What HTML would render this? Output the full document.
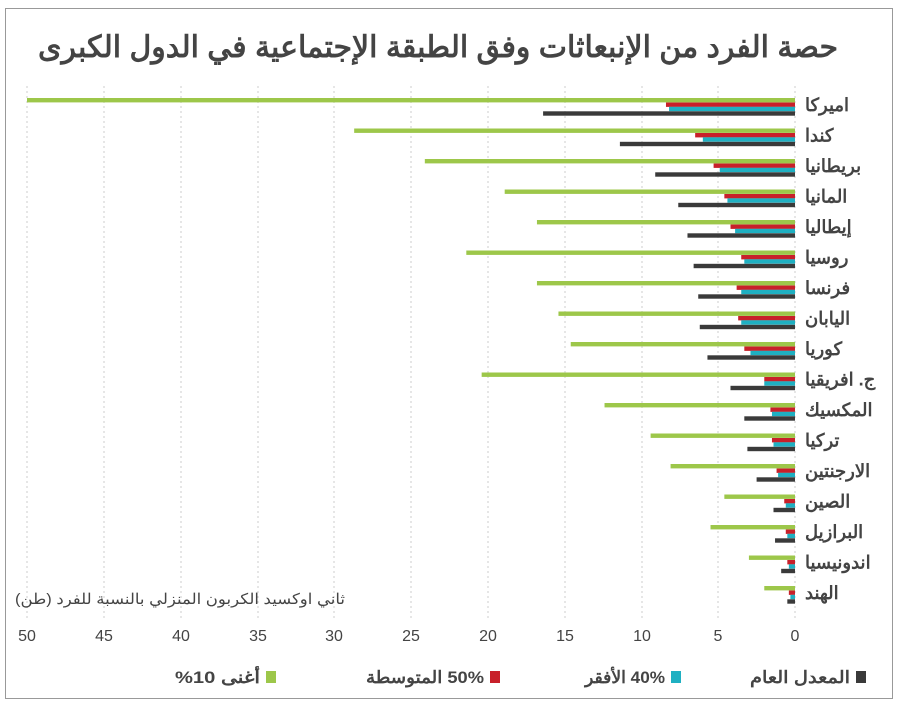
<!DOCTYPE html>
<html><head><meta charset="utf-8"><style>
body{margin:0;background:#fff}
svg text{font-family:"Liberation Sans","Noto Sans CJK SC",sans-serif}
</style></head><body>
<svg width="900" height="707" xmlns="http://www.w3.org/2000/svg">
<rect x="5.5" y="8.5" width="887" height="690" fill="#fff" stroke="#999" stroke-width="1"/>
<text x="438" y="57" text-anchor="middle" font-size="30" font-weight="bold" fill="#444" direction="rtl" textLength="800" lengthAdjust="spacingAndGlyphs">حصة الفرد من الإنبعاثات وفق الطبقة الإجتماعية في الدول الكبرى</text>
<g stroke="#ccc" stroke-dasharray="2,3" stroke-width="1">
<line x1="27" y1="86" x2="27" y2="620"/><line x1="104" y1="86" x2="104" y2="620"/><line x1="181" y1="86" x2="181" y2="620"/><line x1="258" y1="86" x2="258" y2="620"/><line x1="334" y1="86" x2="334" y2="620"/><line x1="411" y1="86" x2="411" y2="620"/><line x1="488" y1="86" x2="488" y2="620"/><line x1="565" y1="86" x2="565" y2="620"/><line x1="642" y1="86" x2="642" y2="620"/><line x1="718" y1="86" x2="718" y2="620"/><line x1="795" y1="86" x2="795" y2="620"/>
</g>
<g id="bars"></g>
<g font-size="16" fill="#444" text-anchor="middle">
<text x="27" y="641">50</text><text x="104" y="641">45</text><text x="181" y="641">40</text><text x="258" y="641">35</text><text x="334" y="641">30</text><text x="411" y="641">25</text><text x="488" y="641">20</text><text x="565" y="641">15</text><text x="642" y="641">10</text><text x="718" y="641">5</text><text x="795" y="641">0</text>
</g>
<text x="345" y="604" font-size="15" fill="#444" text-anchor="start" direction="rtl" textLength="330" lengthAdjust="spacingAndGlyphs">ثاني اوكسيد الكربون المنزلي بالنسبة للفرد (طن)</text>
<g font-size="17" font-weight="bold" fill="#444">
<rect x="856" y="671" width="10" height="12" fill="#3a3a3a"/><text x="850" y="683" text-anchor="start" direction="rtl" textLength="100" lengthAdjust="spacingAndGlyphs">المعدل العام</text>
<rect x="671" y="671" width="10" height="12" fill="#1fb0c2"/><text x="665" y="683" text-anchor="start" direction="rtl" textLength="80" lengthAdjust="spacingAndGlyphs">40% الأفقر</text>
<rect x="490" y="671" width="10" height="12" fill="#c8202a"/><text x="484" y="683" text-anchor="start" direction="rtl" textLength="118" lengthAdjust="spacingAndGlyphs">50% المتوسطة</text>
<rect x="266" y="671" width="10" height="12" fill="#9dc74a"/><text x="260" y="683" text-anchor="start" direction="rtl" textLength="85" lengthAdjust="spacingAndGlyphs">أغنى 10%</text>
</g>
<g id="labels" font-size="18" font-weight="bold" fill="#444"></g>
<script>
var d=[["اميركا",50,8.4,8.2,16.4],["كندا",28.7,6.5,6.0,11.4],["بريطانيا",24.1,5.3,4.9,9.1],["المانيا",18.9,4.6,4.4,7.6],["إيطاليا",16.8,4.2,3.9,7.0],["روسيا",21.4,3.5,3.3,6.6],["فرنسا",16.8,3.8,3.5,6.3],["اليابان",15.4,3.7,3.5,6.2],["كوريا",14.6,3.3,2.9,5.7],["ج. افريقيا",20.4,2.0,2.0,4.2],["المكسيك",12.4,1.6,1.5,3.3],["تركيا",9.4,1.5,1.4,3.1],["الارجنتين",8.1,1.2,1.1,2.5],["الصين",4.6,0.7,0.6,1.4],["البرازيل",5.5,0.6,0.5,1.3],["اندونيسيا",3.0,0.5,0.4,0.9],["الهند",2.0,0.4,0.3,0.5]];
var ns="http://www.w3.org/2000/svg",b=document.getElementById("bars"),l=document.getElementById("labels");
var cols=["#9dc74a","#c8202a","#1fb0c2","#3a3a3a"],off=[-7,-2.5,1.8,6.3];
d.forEach(function(r,i){var c=105+i*30.5;
for(var k=0;k<4;k++){var w=r[k+1]*15.36,e=document.createElementNS(ns,"rect");
e.setAttribute("x",795-w);e.setAttribute("y",c+off[k]);e.setAttribute("width",w);e.setAttribute("height",4.4);e.setAttribute("fill",cols[k]);b.appendChild(e);}
var t=document.createElementNS(ns,"text");t.setAttribute("x",805);t.setAttribute("y",c+6);t.setAttribute("direction","rtl");t.setAttribute("text-anchor","end");t.textContent=r[0];l.appendChild(t);});
</script>
</svg>
</body></html>
